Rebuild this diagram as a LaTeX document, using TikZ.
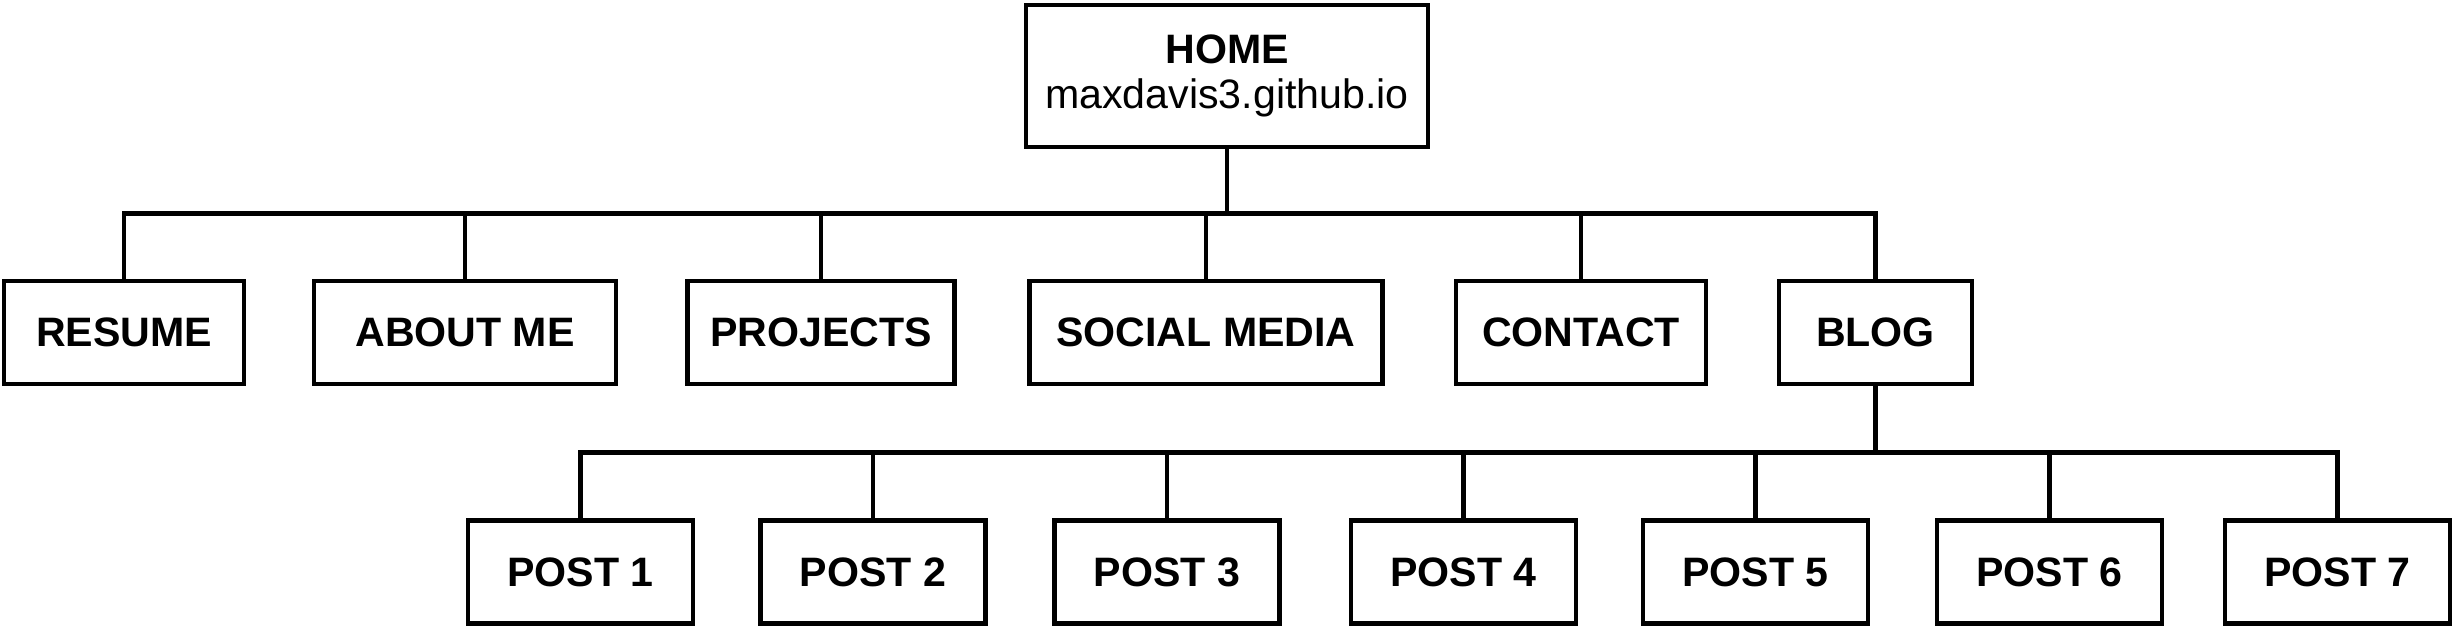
\documentclass[tikz,border=0pt]{standalone}
\usepackage{fontspec}
\setmainfont{Liberation Sans}

\begin{document}
\begin{tikzpicture}[line width=1.2pt,
        page node/.style={rectangle,draw,minimum height=1.03cm,inner sep=0pt,
            font=\fontsize{11.7}{12.7}\selectfont\bfseries},
        post node/.style={page node,minimum width=2.25cm}]
        \useasboundingbox (0,0) rectangle (24.54,-6.28);
        % home page
        \node[page node,minimum width=4.02cm,minimum height=1.42cm,align=center] (home) at (12.27,-0.76)
            {HOME\\\mdseries maxdavis3.github.io};
        % top level pages
        \node[page node,minimum width=2.40cm] (resume) at (1.24,-3.325) {RESUME};
        \node[page node,minimum width=3.02cm] (about) at (4.65,-3.325) {ABOUT ME};
        \node[page node,minimum width=2.67cm] (projects) at (8.21,-3.325) {PROJECTS};
        \node[page node,minimum width=3.53cm] (social) at (12.06,-3.325) {SOCIAL MEDIA};
        \node[page node,minimum width=2.50cm] (contact) at (15.81,-3.325) {CONTACT};
        \node[page node,minimum width=1.93cm] (blog) at (18.755,-3.325) {BLOG};
        % blog posts
        \node[post node] (post1) at (5.805,-5.72) {POST 1};
        \node[post node] (post2) at (8.73,-5.72) {POST 2};
        \node[post node] (post3) at (11.67,-5.72) {POST 3};
        \node[post node] (post4) at (14.635,-5.72) {POST 4};
        \node[post node] (post5) at (17.555,-5.72) {POST 5};
        \node[post node] (post6) at (20.495,-5.72) {POST 6};
        \node[post node] (post7) at (23.375,-5.72) {POST 7};
        \coordinate (hub1) at (home.south |- 0,-2.135);
        \coordinate (hub2) at (blog.south |- 0,-4.525);
        \draw (home.south) -- (hub1);
        \foreach \n in {resume,about,projects,social,contact,blog}
            \draw (\n.north) |- (hub1);
        \draw (blog.south) -- (hub2);
        \foreach \n in {post1,post2,post3,post4,post5,post6,post7}
            \draw (\n.north) |- (hub2);
\end{tikzpicture}
\end{document}
